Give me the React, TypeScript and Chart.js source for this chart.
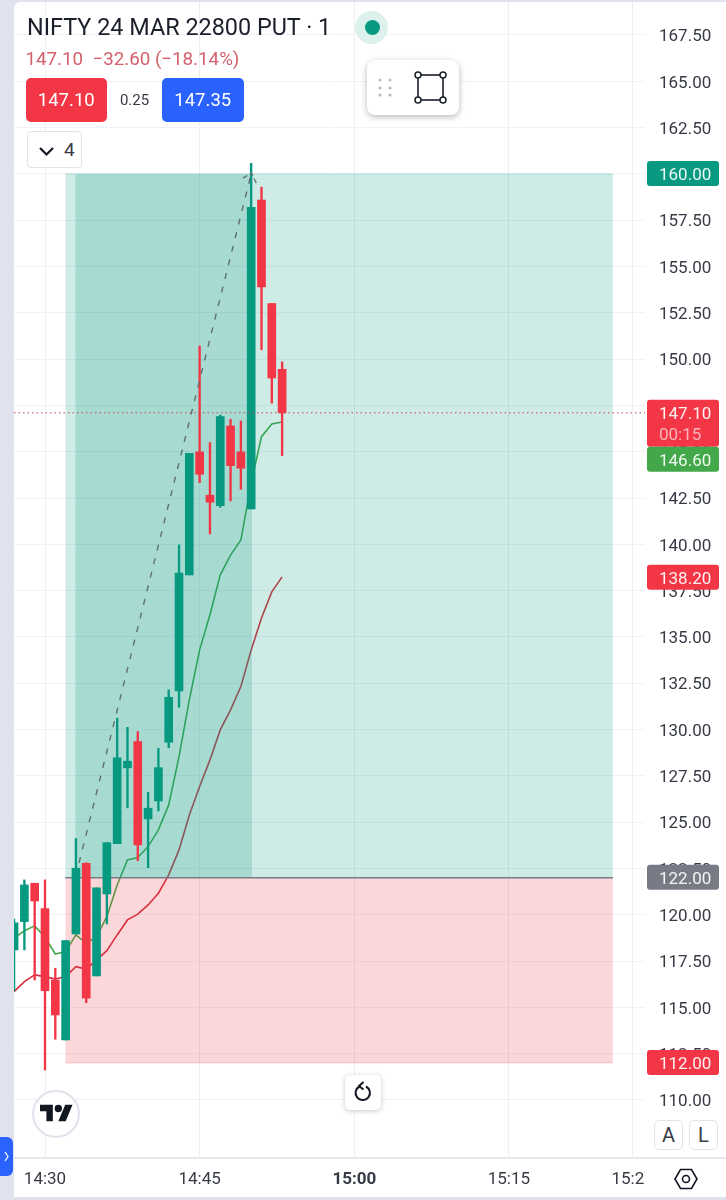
import React, { useEffect, useRef } from "react";
import { Chart, registerables } from "chart.js";

Chart.register(...registerables);

// minutes relative to 14:30
const minutes = [-3,-2,-1,0,1,2,3,4,5,6,7,8,9,10,11,12,13,14,15,16,17,18,19,20,21,22,23];
const opens = [118.1,119.63,121.7,120.33,116.48,113.24,118.96,122.78,116.7,121.12,123.84,127.93,129.35,125.17,126.14,129.31,132.08,138.35,144.99,142.65,142.09,146.39,144.99,141.91,158.59,153.0,149.45];
const closes = [119.56,121.61,120.74,115.9,114.59,118.6,122.51,115.5,121.45,123.89,128.47,128.29,123.77,125.75,127.94,131.74,138.45,144.91,143.78,142.27,146.89,144.25,144.11,158.2,153.9,148.98,147.1];
const highs = [119.77,121.88,121.7,121.88,117.11,118.6,124.11,122.81,121.45,123.89,130.61,130.12,129.89,126.61,128.99,132.14,139.97,144.91,150.71,145.49,146.98,146.75,146.66,160.57,159.28,153.0,149.85];
const lows = [115.9,118.1,116.48,111.62,113.28,113.24,118.96,115.25,116.7,119.5,123.84,125.77,122.92,122.54,125.6,129.02,131.2,138.35,143.33,140.56,142.0,142.34,142.97,141.91,150.5,147.62,144.79];
const fastAverage = [118.73,119.14,119.4,118.78,117.88,118.01,118.91,118.46,118.82,119.9,121.61,122.96,123.09,123.68,124.58,125.93,128.54,131.6,134.3,136.2,138.35,139.42,140.23,143.31,145.81,146.5,146.6];
const slowAverage = [115.85,116.39,116.75,116.66,116.53,116.66,117.2,117.07,117.56,118.06,118.91,119.72,120.03,120.53,121.16,122.15,123.5,125.39,126.92,128.36,129.98,131.06,132.32,134.3,136.02,137.43,138.24];

const entryPrice = 122;
const targetPrice = 160;
const stopPrice = 112;
const lastPrice = 147.1;
const zoneStart = 1.97;
const zoneEnd = 55.09;
const filledStart = 2.94;
const filledEnd = 20.08;
const trendX = [3.3, 20];
const trendY = [122.8, 160];
const arrowX = [19.2, 20, 20.5];
const arrowY = [159.77, 160.05, 159.5];

const priceTicks = [110,112.5,115,117.5,120,122.5,125,127.5,130,132.5,135,137.5,140,142.5,145,147.5,150,152.5,155,157.5,160,162.5,165,167.5];
const timeTicks = [0, 15, 30, 45, 57];
const timeLabels = ["14:30", "14:45", "15:00", "15:15", "15:27"];

const tagValues = [160, 147.1, 146.6, 138.2, 122, 112];
const tagColors = ["#089981", "#f23645", "#43a84a", "#f23645", "#787b86", "#f23645"];
const countdown = "00:15";

const UP = "#089981";
const DOWN = "#f23645";
const FONT = "Roboto";

const xMin = -3.007;
const xMax = 58.2;
const yMax = 169.28;
const yMin = 106.92;

function line(xs: number[], ys: number[]) {
  return xs.map((x, i) => ({ x, y: ys[i] }));
}

const tagsPlugin = {
  id: "tags",
  afterDraw(chart: any) {
    const { ctx, scales } = chart;
    const y = scales.y;
    ctx.save();
    let prevBottom = -Infinity;
    tagValues.forEach((v, i) => {
      const py = y.getPixelForValue(v);
      const isLast = v === lastPrice;
      const top = Math.max(py - 13, prevBottom);
      const h = isLast ? 47 : 25;
      prevBottom = top + h;
      ctx.fillStyle = tagColors[i];
      ctx.beginPath();
      ctx.roundRect(647, top, 72, h, 3);
      ctx.fill();
      ctx.font = `17px ${FONT}`;
      ctx.textAlign = "left";
      ctx.textBaseline = "middle";
      ctx.fillStyle = "rgba(255,255,255,0.92)";
      ctx.fillText(v.toFixed(2), 659, top + 15);
      if (isLast) {
        ctx.fillStyle = "rgba(255,255,255,0.62)";
        ctx.fillText(countdown, 659, top + 36);
      }
    });
    ctx.restore();
  },
};

const abs = (left: number, top: number, width: number, height: number, extra: React.CSSProperties = {}): React.CSSProperties => ({
  position: "absolute",
  left,
  top,
  width,
  height,
  ...extra,
});

const txt = (left: number, top: number, size: number, color: string, extra: React.CSSProperties = {}): React.CSSProperties => ({
  position: "absolute",
  left,
  top,
  fontSize: size,
  color,
  lineHeight: "1",
  whiteSpace: "pre",
  ...extra,
});

export default function App() {
  const ref = useRef<HTMLCanvasElement | null>(null);

  useEffect(() => {
    document.body.style.margin = "0";
    const candleColors = minutes.map((_, i) => (closes[i] >= opens[i] ? UP : DOWN));
    const chart = new Chart(ref.current as HTMLCanvasElement, {
      type: "bar",
      data: {
        datasets: [
          {
            type: "line", label: "slow", order: 9,
            data: line(minutes, slowAverage),
            borderColor: "#d62f3f", borderWidth: 1.6, pointRadius: 0, tension: 0,
          },
          {
            type: "line", label: "fast", order: 8,
            data: line(minutes, fastAverage),
            borderColor: "#43a84a", borderWidth: 1.6, pointRadius: 0, tension: 0,
          },
          {
            type: "line", label: "profit", order: 7,
            data: line([zoneStart, zoneEnd], [targetPrice, targetPrice]),
            borderColor: "rgba(8,153,129,0.22)", borderWidth: 1, pointRadius: 0,
            fill: { value: entryPrice }, backgroundColor: "rgba(8,153,129,0.2)",
          },
          {
            type: "line", label: "filled", order: 6,
            data: line([filledStart, filledEnd], [targetPrice, targetPrice]),
            borderWidth: 0, pointRadius: 0,
            fill: { value: entryPrice }, backgroundColor: "rgba(8,153,129,0.2)",
          },
          {
            type: "line", label: "stop", order: 5,
            data: line([zoneStart, zoneEnd], [stopPrice, stopPrice]),
            borderColor: "rgba(242,54,69,0.2)", borderWidth: 1, pointRadius: 0,
            fill: { value: entryPrice }, backgroundColor: "rgba(242,54,69,0.2)",
          },
          {
            type: "line", label: "entry", order: 4,
            data: line([zoneStart, zoneEnd], [entryPrice, entryPrice]),
            borderColor: "#787b86", borderWidth: 1.5, pointRadius: 0,
          },
          {
            type: "bar", label: "wicks", order: 3,
            data: minutes.map((x, i) => ({ x, y: [lows[i], highs[i]] })) as any,
            backgroundColor: candleColors, barThickness: 1.7, grouped: false, borderSkipped: false,
          },
          {
            type: "bar", label: "bodies", order: 2,
            data: minutes.map((x, i) => ({ x, y: [opens[i], closes[i]] })) as any,
            backgroundColor: candleColors, barThickness: 8, grouped: false, borderSkipped: false,
          },
          {
            type: "line", label: "trend", order: 1,
            data: line(trendX, trendY),
            borderColor: "#5f6f70", borderWidth: 1.4, borderDash: [6, 8], pointRadius: 0,
          },
          {
            type: "line", label: "arrow", order: 1,
            data: line(arrowX, arrowY),
            borderColor: "#5f6f70", borderWidth: 1.3, borderDash: [5, 3], pointRadius: 0,
          },
          {
            type: "line", label: "last", order: 0,
            data: line([xMin, xMax], [lastPrice, lastPrice]),
            borderColor: "#c8454f", borderWidth: 1, borderDash: [1.5, 3], pointRadius: 0,
          },
        ] as any,
      },
      options: {
        responsive: false,
        animation: false,
        devicePixelRatio: 1,
        layout: { padding: { left: 14, top: 2, right: 0, bottom: 0 } },
        plugins: { legend: { display: false }, tooltip: { enabled: false } },
        scales: {
          x: {
            type: "linear",
            min: xMin,
            max: xMax,
            offset: false,
            border: { display: false },
            grid: { color: "#eceef4", lineWidth: 1, drawTicks: false, offset: false },
            afterBuildTicks(s: any) {
              s.ticks = timeTicks.map((value) => ({ value }));
            },
            afterFit(s: any) {
              s.height = 43;
              s.paddingLeft = 0;
              s.paddingRight = 0;
            },
            ticks: {
              autoSkip: false,
              maxRotation: 0,
              padding: 13,
              color: "#363a45",
              font: (c: any) => ({ family: FONT, size: 17, weight: timeTicks[c.index] === 30 ? "bold" : "normal" }),
              callback: (_v: any, i: number) => timeLabels[i],
            },
          },
          y: {
            type: "linear",
            position: "right",
            min: yMin,
            max: yMax,
            border: { display: false },
            grid: { color: "#f0f2f7", lineWidth: 1, drawTicks: false },
            afterBuildTicks(s: any) {
              s.ticks = priceTicks.map((value) => ({ value }));
            },
            afterFit(s: any) {
              s.width = 81;
              s.paddingTop = 0;
              s.paddingBottom = 0;
            },
            afterUpdate(s: any) {
              // digits sit about 2px high with a "middle" baseline: centre them on the grid line
              if (s.__shifted) return;
              s.__shifted = true;
              const original = s.getLabelItems.bind(s);
              s.getLabelItems = (area: any) =>
                original(area).map((item: any) => ({
                  ...item,
                  options: {
                    ...item.options,
                    translation: [item.options.translation[0], item.options.translation[1] + 2],
                  },
                }));
            },
            ticks: {
              autoSkip: false,
              padding: 14,
              color: "#363a45",
              font: { family: FONT, size: 17 },
              callback: (v: any) => Number(v).toFixed(2),
            },
          },
        },
      },
      plugins: [tagsPlugin],
    } as any);
    return () => chart.destroy();
  }, []);

  return (
    <div style={{ position: "relative", width: 726, height: 1200, background: "#e0e3ee", overflow: "hidden", fontFamily: FONT }}>
      <div style={abs(13.5, 2, 713, 1195, { background: "#fff", borderTopLeftRadius: 6 })} />
      <canvas ref={ref} width={726} height={1200} style={abs(0, 0, 726, 1200, { display: "block" })} />
      {/* axis corner and separator */}
      <div style={abs(14, 1157, 712, 2, { background: "#e6e8ee" })} />
      <div style={abs(645, 1159, 81, 38, { background: "#fff" })} />

      {/* header */}
      <div style={txt(27, 15.5, 23.4, "#1b1f2a")}>NIFTY 24 MAR 22800 PUT · 1</div>
      <div style={txt(25.5, 50, 18.75, "#d4606c")}>147.10  −32.60 (−18.14%)</div>
      <div style={abs(25.5, 78, 81.5, 44, { background: DOWN, borderRadius: 5, color: "#fff", fontSize: 18.5, textAlign: "center", lineHeight: "44px" })}>147.10</div>
      <div style={abs(107, 78, 55, 44, { color: "#363a45", fontSize: 15, textAlign: "center", lineHeight: "44px" })}>0.25</div>
      <div style={abs(162, 78, 81.5, 44, { background: "#2962ff", borderRadius: 5, color: "#fff", fontSize: 18.5, textAlign: "center", lineHeight: "44px" })}>147.35</div>
      <div style={abs(27, 131, 55, 37, { background: "#fff", border: "1px solid #e0e3eb", borderRadius: 4, boxSizing: "border-box" })}>
        <svg width="20" height="20" style={{ position: "absolute", left: 9, top: 9 }}>
          <polyline points="3,7 9.5,13.5 16,7" fill="none" stroke="#131722" strokeWidth="2.2" />
        </svg>
        <div style={txt(36, 8, 19, "#363a45")}>4</div>
      </div>

      {/* status dot */}
      <div style={abs(355, 10.5, 33, 33, { background: "#dcf0ec", borderRadius: "50%" })} />
      <div style={abs(364.5, 19.5, 15, 15, { background: UP, borderRadius: "50%" })} />

      {/* drawing toolbar */}
      <div style={abs(367, 60, 92, 55, { background: "#fff", borderRadius: 8, boxShadow: "0 2px 6px rgba(0,0,0,0.28)" })}>
        <svg width="92" height="55" style={{ position: "absolute", left: 0, top: 0 }}>
          {[13, 23].map((cx) => [20, 28, 35].map((cy) => <circle key={`${cx}-${cy}`} cx={cx} cy={cy} r="1.6" fill="#b8bbc4" />))}
          <rect x="51" y="15" width="25" height="25" fill="none" stroke="#1b1f2a" strokeWidth="1.6" />
          {[[51, 15], [76, 15], [51, 40], [76, 40]].map(([cx, cy]) => (
            <circle key={`${cx}-${cy}`} cx={cx} cy={cy} r="3" fill="#fff" stroke="#1b1f2a" strokeWidth="1.5" />
          ))}
        </svg>
      </div>

      {/* logo */}
      <div style={abs(31.5, 1090, 48, 48, { background: "#fff", border: "2px solid #e0e3eb", borderRadius: "50%", boxSizing: "border-box" })}>
        <svg width="33" height="26" viewBox="0 0 36 28" style={{ position: "absolute", left: 6.5, top: 9 }}>
          <path d="M14 22H7V11H0V4h14v18zM28 22h-8l7.5-18h8L28 22z" fill="#131722" />
          <circle cx="20" cy="8" r="4" fill="#131722" />
        </svg>
      </div>

      {/* reset */}
      <div style={abs(345, 1075, 36, 35, { background: "#fff", borderRadius: 5, boxShadow: "0 1px 5px rgba(0,0,0,0.22)" })}>
        <svg width="36" height="35" style={{ position: "absolute", left: 0, top: 0 }}>
          <path d="M14.5 11.5 A7.2 7.2 0 1 0 21 11.5" fill="none" stroke="#131722" strokeWidth="2" />
          <polyline points="18.5,7 14,11 18.5,14.5" fill="none" stroke="#131722" strokeWidth="2" />
        </svg>
      </div>

      {/* A / L */}
      {[["A", 654], ["L", 689]].map(([t, x]) => (
        <div key={t as string} style={abs(x as number, 1120, 29, 30, { background: "#fff", border: "1px solid #e0e3eb", borderRadius: 5, boxSizing: "border-box", textAlign: "center", lineHeight: "28px", fontSize: 20, color: "#363a45" })}>{t}</div>
      ))}

      {/* settings hexagon */}
      <svg width="26" height="26" style={{ position: "absolute", left: 673, top: 1166 }}>
        <polygon points="7.5,3.5 18.5,3.5 24,13 18.5,22.5 7.5,22.5 2,13" fill="none" stroke="#131722" strokeWidth="1.6" />
        <circle cx="13" cy="13" r="3.5" fill="none" stroke="#131722" strokeWidth="1.6" />
      </svg>

      {/* side handle */}
      <div style={abs(0, 1137, 13, 39, { background: "#2962ff", borderRadius: "0 6px 6px 0" })}>
        <svg width="13" height="39" style={{ position: "absolute", left: 0, top: 0 }}>
          <polyline points="5,15 8,19.5 5,24" fill="none" stroke="#fff" strokeWidth="1.3" />
        </svg>
      </div>
    </div>
  );
}
